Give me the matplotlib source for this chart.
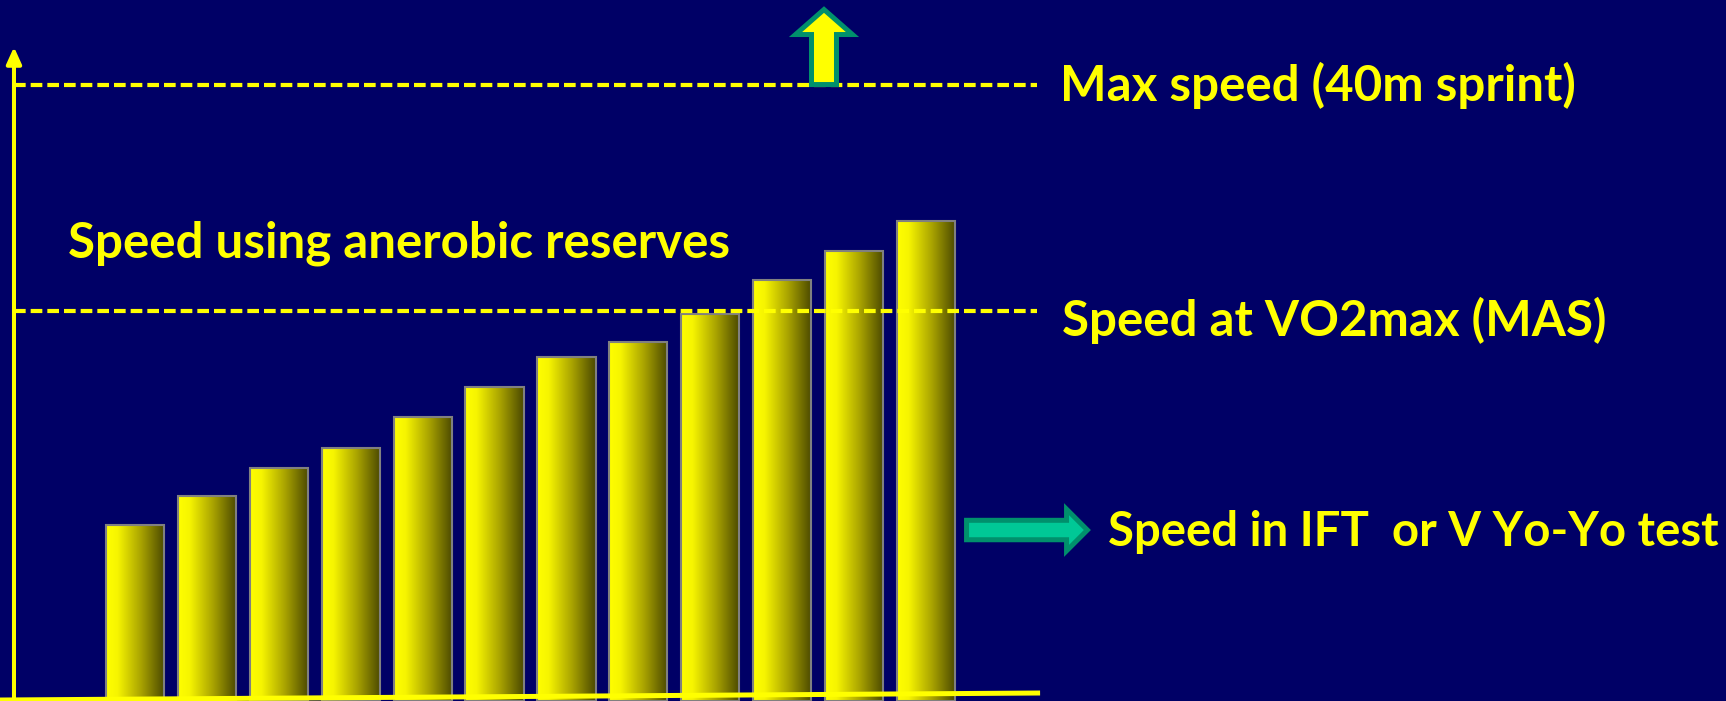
import matplotlib
matplotlib.use('Agg')
import matplotlib.pyplot as plt
import numpy as np
from matplotlib.colors import LinearSegmentedColormap

# running speeds, expressed as % of MAS
bar_heights = [45, 52.5, 59.7, 64.9, 72.8, 80.5, 88.2, 92.1, 99.2, 107.9, 115.4, 123.1]
mas_speed = 100
max_speed = 158

label_max = 'Max speed (40m sprint)'
label_anaerobic = 'Speed using anerobic reserves'
label_mas = 'Speed at VO2max (MAS)'
label_ift = 'Speed in IFT  or V Yo-Yo test'

navy = '#000066'
yellow = '#ffff00'
green_edge = '#00906c'

plt.rcParams['font.family'] = ['Lato', 'DejaVu Sans']

fig = plt.figure(figsize=(17.26, 7.01), dpi=100, facecolor=navy)
ax = fig.add_axes([0, 0, 1, 1])
ax.set_facecolor(navy)
ax.axis('off')

x = np.arange(len(bar_heights))

# bars: grey outline, yellow -> olive shading clipped inside each one
gold = LinearSegmentedColormap.from_list(
    'gold', [(0, '#ffff00'), (0.2, '#f6f400'), (0.6, '#a8a200'), (1, '#4a4800')])
grad = np.linspace(0, 1, 256).reshape(1, -1)
bars = ax.bar(x, bar_heights, width=0.81, facecolor='none',
              edgecolor='#808080', linewidth=1.5, zorder=3)
for b in bars:
    x0, y0 = b.get_x(), b.get_y()
    im = ax.imshow(grad, cmap=gold, aspect='auto', zorder=2,
                   extent=[x0, x0 + b.get_width(), y0, y0 + b.get_height()])
    im.set_clip_path(b)

ax.set_xlim(-1.88, 22.13)
ax.set_ylim(0, 179.7)

# reference speeds
for yv in (max_speed, mas_speed):
    ax.axhline(yv, xmin=0.008, xmax=0.601, color=yellow, lw=3,
               dashes=(2.8, 1.2), zorder=4)

# axes drawn by hand
ax.annotate('', xy=(0.0081, 0.933), xytext=(0.0081, 0), xycoords='axes fraction',
            arrowprops=dict(arrowstyle='-|>,head_length=1.0,head_width=0.45',
                            color=yellow, lw=2.9, shrinkA=0, shrinkB=0))
ax.plot([0, 0.6026], [0.0014, 0.0114], color=yellow, lw=3.6,
        transform=ax.transAxes, zorder=5, solid_capstyle='butt')

# arrows
ax.annotate('', xy=(0.4774, 0.9864), xycoords='axes fraction',
            xytext=(0, -54), textcoords='offset points',
            arrowprops=dict(arrowstyle='simple,head_length=1.8,head_width=4.1,tail_width=1.8',
                            fc=yellow, ec=green_edge, lw=3.6, shrinkA=0, shrinkB=0,
                            mutation_scale=10, joinstyle='miter'), zorder=6)
ax.annotate('', xy=(0.630, 0.2439), xycoords='axes fraction',
            xytext=(-87, 0), textcoords='offset points',
            arrowprops=dict(arrowstyle='simple,head_length=1.5,head_width=3.0,tail_width=1.4',
                            fc='#00c896', ec=green_edge, lw=3.6, shrinkA=0, shrinkB=0,
                            mutation_scale=10, joinstyle='miter'), zorder=6)

txt = dict(color=yellow, fontweight='bold', va='baseline', transform=ax.transAxes)
ax.text(0.6141, 0.8559, label_max, fontsize=35.5, **txt)
ax.text(0.0394, 0.6320, label_anaerobic, fontsize=35.5, **txt)
ax.text(0.6153, 0.5207, label_mas, fontsize=35.5, **txt)
ax.text(0.6419, 0.2211, label_ift, fontsize=34, **txt)

fig.savefig('out.png', dpi=100, facecolor=navy)
